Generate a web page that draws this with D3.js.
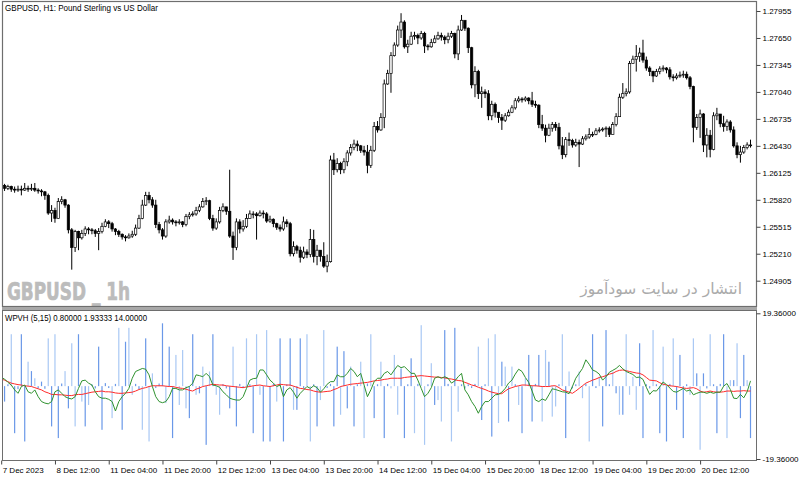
<!DOCTYPE html>
<html>
<head>
<meta charset="utf-8">
<script src="https://cdn.jsdelivr.net/npm/d3@7"></script>
<style>
body { margin: 0; background: #fff; }
svg { display: block; }
</style>
</head>
<body>
<svg width="800" height="481"></svg>
<script>
// GBPUSD H1 bars, 7 Dec 20:00 .. 21 Dec 03:00
var open = [1.2600,1.2598,1.2595,1.2597,1.2594,1.2593,1.2594,1.2593,1.2595,1.2594,
1.2595,1.2593,1.2592,1.2591,1.2587,1.2567,1.2570,1.2561,1.2580,1.2582,
1.2576,1.2548,1.2528,1.2546,1.2539,1.2544,1.2549,1.2548,1.2547,1.2544,
1.2546,1.2552,1.2557,1.2555,1.2549,1.2546,1.2543,1.2540,1.2539,1.2541,
1.2543,1.2550,1.2561,1.2576,1.2587,1.2582,1.2576,1.2554,1.2548,1.2541,
1.2557,1.2559,1.2557,1.2556,1.2557,1.2554,1.2563,1.2565,1.2566,1.2570,
1.2574,1.2580,1.2581,1.2561,1.2550,1.2557,1.2570,1.2574,1.2569,1.2541,
1.2528,1.2557,1.2549,1.2552,1.2561,1.2566,1.2566,1.2564,1.2567,1.2566,
1.2558,1.2560,1.2555,1.2551,1.2549,1.2557,1.2555,1.2521,1.2529,1.2525,
1.2517,1.2523,1.2520,1.2537,1.2518,1.2525,1.2518,1.2507,1.2512,1.2627,
1.2616,1.2623,1.2616,1.2625,1.2635,1.2641,1.2645,1.2643,1.2638,1.2636,
1.2621,1.2638,1.2665,1.2661,1.2675,1.2713,1.2725,1.2745,1.2757,1.2774,
1.2783,1.2755,1.2758,1.2767,1.2768,1.2765,1.2770,1.2756,1.2755,1.2760,
1.2764,1.2768,1.2766,1.2763,1.2767,1.2770,1.2747,1.2774,1.2785,1.2776,
1.2754,1.2712,1.2727,1.2702,1.2704,1.2702,1.2677,1.2690,1.2681,1.2675,
1.2672,1.2677,1.2681,1.2686,1.2694,1.2696,1.2695,1.2697,1.2694,1.2690,
1.2689,1.2667,1.2663,1.2655,1.2663,1.2667,1.2664,1.2643,1.2633,1.2650,
1.2649,1.2644,1.2647,1.2645,1.2651,1.2653,1.2656,1.2656,1.2660,1.2661,
1.2662,1.2663,1.2656,1.2667,1.2676,1.2698,1.2702,1.2704,1.2736,1.2741,
1.2744,1.2748,1.2740,1.2731,1.2727,1.2722,1.2727,1.2730,1.2731,1.2729,
1.2721,1.2720,1.2722,1.2723,1.2724,1.2720,1.2710,1.2664,1.2675,1.2679,
1.2644,1.2655,1.2639,1.2677,1.2679,1.2668,1.2665,1.2670,1.2661,1.2643,
1.2633,1.2636,1.2641,1.2644];

var high = [1.2601,1.2600,1.2599,1.2598,1.2597,1.2598,1.2598,1.2601,1.2598,1.2600,
1.2601,1.2595,1.2594,1.2592,1.2589,1.2576,1.2573,1.2584,1.2586,1.2583,
1.2577,1.2550,1.2548,1.2547,1.2548,1.2552,1.2551,1.2550,1.2549,1.2550,
1.2556,1.2560,1.2559,1.2557,1.2550,1.2548,1.2544,1.2542,1.2544,1.2547,
1.2554,1.2565,1.2582,1.2591,1.2591,1.2585,1.2582,1.2557,1.2550,1.2560,
1.2564,1.2561,1.2559,1.2560,1.2558,1.2566,1.2568,1.2569,1.2574,1.2577,
1.2584,1.2585,1.2582,1.2565,1.2561,1.2574,1.2578,1.2574,1.2616,1.2546,
1.2561,1.2560,1.2559,1.2566,1.2570,1.2569,1.2568,1.2570,1.2570,1.2568,
1.2564,1.2561,1.2556,1.2554,1.2563,1.2560,1.2557,1.2535,1.2531,1.2529,
1.2529,1.2526,1.2549,1.2548,1.2531,1.2525,1.2534,1.2520,1.2632,1.2635,
1.2629,1.2625,1.2629,1.2638,1.2645,1.2650,1.2649,1.2644,1.2643,1.2644,
1.2643,1.2670,1.2671,1.2680,1.2718,1.2729,1.2749,1.2760,1.2779,1.2793,
1.2785,1.2763,1.2772,1.2772,1.2770,1.2773,1.2772,1.2758,1.2764,1.2768,
1.2772,1.2771,1.2768,1.2771,1.2773,1.2771,1.2779,1.2791,1.2784,1.2777,
1.2755,1.2733,1.2729,1.2710,1.2707,1.2706,1.2694,1.2692,1.2680,1.2679,
1.2680,1.2684,1.2689,1.2697,1.2699,1.2698,1.2699,1.2698,1.2704,1.2694,
1.2690,1.2678,1.2667,1.2668,1.2670,1.2670,1.2669,1.2653,1.2653,1.2658,
1.2651,1.2651,1.2650,1.2654,1.2656,1.2663,1.2659,1.2663,1.2664,1.2664,
1.2665,1.2665,1.2670,1.2680,1.2702,1.2714,1.2708,1.2739,1.2745,1.2757,
1.2754,1.2763,1.2744,1.2733,1.2728,1.2730,1.2733,1.2734,1.2732,1.2732,
1.2724,1.2725,1.2727,1.2728,1.2727,1.2722,1.2711,1.2679,1.2684,1.2680,
1.2663,1.2661,1.2681,1.2686,1.2679,1.2677,1.2673,1.2672,1.2665,1.2647,
1.2643,1.2644,1.2647,1.2650];

var low = [1.2593,1.2592,1.2593,1.2591,1.2590,1.2591,1.2587,1.2592,1.2591,1.2592,
1.2591,1.2589,1.2586,1.2582,1.2565,1.2557,1.2556,1.2561,1.2577,1.2573,
1.2544,1.2503,1.2523,1.2525,1.2537,1.2541,1.2543,1.2543,1.2540,1.2525,
1.2544,1.2551,1.2550,1.2546,1.2542,1.2540,1.2537,1.2535,1.2538,1.2539,
1.2541,1.2549,1.2560,1.2575,1.2578,1.2573,1.2550,1.2544,1.2537,1.2539,
1.2555,1.2554,1.2552,1.2554,1.2551,1.2552,1.2560,1.2563,1.2564,1.2568,
1.2573,1.2576,1.2559,1.2547,1.2548,1.2555,1.2568,1.2565,1.2539,1.2514,
1.2525,1.2544,1.2546,1.2550,1.2561,1.2561,1.2537,1.2563,1.2561,1.2556,
1.2556,1.2551,1.2548,1.2546,1.2547,1.2551,1.2518,1.2518,1.2521,1.2511,
1.2515,1.2516,1.2517,1.2511,1.2508,1.2512,1.2505,1.2500,1.2511,1.2610,
1.2613,1.2611,1.2612,1.2620,1.2632,1.2638,1.2637,1.2635,1.2632,1.2612,
1.2618,1.2636,1.2658,1.2660,1.2663,1.2712,1.2703,1.2744,1.2755,1.2765,
1.2753,1.2748,1.2757,1.2763,1.2758,1.2763,1.2748,1.2751,1.2754,1.2759,
1.2763,1.2762,1.2758,1.2759,1.2765,1.2742,1.2740,1.2773,1.2773,1.2748,
1.2708,1.2698,1.2696,1.2686,1.2697,1.2672,1.2672,1.2675,1.2669,1.2661,
1.2670,1.2676,1.2680,1.2684,1.2692,1.2692,1.2693,1.2690,1.2687,1.2686,
1.2663,1.2660,1.2647,1.2654,1.2659,1.2660,1.2639,1.2628,1.2630,1.2643,
1.2641,1.2642,1.2619,1.2644,1.2649,1.2651,1.2653,1.2655,1.2658,1.2659,
1.2653,1.2653,1.2656,1.2665,1.2676,1.2696,1.2699,1.2702,1.2736,1.2727,
1.2738,1.2737,1.2728,1.2722,1.2715,1.2721,1.2724,1.2727,1.2725,1.2718,
1.2716,1.2718,1.2720,1.2720,1.2718,1.2707,1.2647,1.2661,1.2652,1.2636,
1.2630,1.2630,1.2638,1.2672,1.2664,1.2659,1.2660,1.2658,1.2641,1.2629,
1.2624,1.2634,1.2639,1.2641];

var close = [1.2598,1.2595,1.2597,1.2594,1.2593,1.2594,1.2593,1.2595,1.2594,1.2595,
1.2593,1.2592,1.2591,1.2587,1.2567,1.2570,1.2561,1.2580,1.2582,1.2576,
1.2548,1.2528,1.2546,1.2539,1.2544,1.2549,1.2548,1.2547,1.2544,1.2546,
1.2552,1.2557,1.2555,1.2549,1.2546,1.2543,1.2540,1.2539,1.2541,1.2543,
1.2550,1.2561,1.2576,1.2587,1.2582,1.2576,1.2554,1.2548,1.2541,1.2557,
1.2559,1.2557,1.2556,1.2557,1.2554,1.2563,1.2565,1.2566,1.2570,1.2574,
1.2580,1.2581,1.2561,1.2550,1.2557,1.2570,1.2574,1.2569,1.2541,1.2528,
1.2557,1.2549,1.2552,1.2561,1.2566,1.2566,1.2564,1.2567,1.2566,1.2558,
1.2560,1.2555,1.2551,1.2549,1.2557,1.2555,1.2521,1.2529,1.2525,1.2517,
1.2523,1.2520,1.2537,1.2518,1.2525,1.2518,1.2507,1.2512,1.2627,1.2616,
1.2623,1.2616,1.2625,1.2635,1.2641,1.2645,1.2643,1.2638,1.2636,1.2621,
1.2638,1.2665,1.2661,1.2675,1.2713,1.2725,1.2745,1.2757,1.2774,1.2783,
1.2755,1.2758,1.2767,1.2768,1.2765,1.2770,1.2756,1.2755,1.2760,1.2764,
1.2768,1.2766,1.2763,1.2767,1.2770,1.2747,1.2774,1.2785,1.2776,1.2754,
1.2712,1.2727,1.2702,1.2704,1.2702,1.2677,1.2690,1.2681,1.2675,1.2672,
1.2677,1.2681,1.2686,1.2694,1.2696,1.2695,1.2697,1.2694,1.2690,1.2689,
1.2667,1.2663,1.2655,1.2663,1.2667,1.2664,1.2643,1.2633,1.2650,1.2649,
1.2644,1.2647,1.2645,1.2651,1.2653,1.2656,1.2656,1.2660,1.2661,1.2662,
1.2663,1.2656,1.2667,1.2676,1.2698,1.2702,1.2704,1.2736,1.2741,1.2744,
1.2748,1.2740,1.2731,1.2727,1.2722,1.2727,1.2730,1.2731,1.2729,1.2721,
1.2720,1.2722,1.2723,1.2724,1.2720,1.2710,1.2664,1.2675,1.2679,1.2644,
1.2655,1.2639,1.2677,1.2679,1.2668,1.2665,1.2670,1.2661,1.2643,1.2633,
1.2636,1.2641,1.2644,1.2644];

// WPVH (5,15) histogram and its two lines
var hist = [0.6,-4.1,0.5,13.8,-12.5,-0.8,13.8,-14.7,6.5,4.0,
2.1,-0.6,1.2,-0.7,12.7,-10.7,13.8,-13.8,0.7,4.0,
-5.9,11.4,-10.7,13.8,-4.1,-10.7,-5.0,0.5,-0.6,10.5,
-11.6,0.8,-0.5,-8.5,0.6,15.5,-11.6,11.8,15.5,-2.3,
0.6,-0.8,-11.6,12.7,-14.7,3.4,-0.5,0.7,16.7,-4.5,
10.5,-13.8,8.3,-5.0,9.6,-5.9,-8.5,13.8,-2.3,-1.9,
5.2,-15.6,3.9,13.8,-2.3,-7.6,0.5,-0.6,-5.9,10.5,
-10.7,0.6,-0.5,12.7,0.5,-12.5,13.8,-2.3,-14.7,14.9,
-14.7,0.6,-4.1,12.7,-14.7,0.5,12.7,-6.3,-6.3,12.7,
-0.6,13.8,-14.7,0.5,-10.7,-3.7,14.9,-0.5,0.6,-10.7,
10.5,-7.6,9.3,-5.9,5.2,-10.7,0.5,6.5,-13.8,0.7,
13.8,-8.5,0.5,6.5,-13.8,0.6,-0.6,8.3,-7.6,4.7,
-13.8,0.5,7.4,-12.5,0.6,16.2,-15.6,0.5,6.1,-5.0,
-3.7,-9.4,14.9,0.6,-14.7,15.5,-6.8,0.5,-0.6,0.5,
-0.5,0.6,10.5,-9.0,0.5,12.7,-13.4,13.8,-9.8,6.5,
5.2,-9.4,5.2,0.5,-5.0,-12.5,2.1,8.3,-9.4,0.6,
8.3,-9.4,9.6,6.5,-8.1,-5.4,0.5,13.8,-13.8,3.9,
-0.6,0.5,3.9,-3.2,0.6,-14.7,13.8,-0.5,2.5,-10.7,
14.9,0.5,3.9,-1.9,-7.6,-7.6,13.8,-2.3,2.5,-6.3,
11.4,-13.8,0.5,-0.6,14.9,0.5,-12.5,10.5,-14.7,0.6,
12.7,-6.3,8.3,-13.8,0.5,-2.3,12.7,3.4,-16.9,3.4,
-0.6,13.8,0.5,-12.5,0.6,13.8,-13.8,1.6,1.6,11.4,
-8.5,8.3,1.6,-13.8];

// 1 = darker blue buffer, 0 = light blue buffer
var histKind = [1,1,1,0,1,1,1,1,0,1, 0,1,1,1,0,1,0,1,1,0, 1,0,0,1,0,1,0,1,1,1,
1,1,1,0,1,0,1,1,0,0, 1,1,0,1,0,0,1,1,1,0, 1,1,0,0,0,0,1,1,0,1,
0,1,0,1,0,0,1,1,1,0, 1,1,1,0,1,1,0,0,1,0, 1,1,0,1,1,1,1,0,1,1,
1,0,0,1,1,0,0,1,1,1, 1,0,1,1,0,1,1,0,0,1, 0,1,1,0,1,1,0,0,0,1,
1,1,1,0,1,0,0,1,0,1, 0,0,1,1,0,1,0,1,1,1, 1,1,0,1,1,0,1,0,0,1,
0,1,0,1,0,1,0,1,1,1, 1,0,0,1,0,0,1,0,1,0, 1,1,0,0,1,0,1,1,0,1,
1,1,0,1,0,1,0,0,0,0, 1,1,1,1,0,1,1,0,1,1, 0,1,1,1,1,0,0,1,0,1,
1,0,1,1,1,1,0,0,1,0, 1,1,0,1];

var greenLine = [2.3,1.9,1.0,0.3,-1.0,-1.9,-0.1,0.3,-1.5,-1.9,
-1.0,-2.8,-4.1,-4.5,-4.7,-4.1,-1.5,-1.0,-1.9,-2.8,
-3.2,-3.4,-2.8,-0.6,1.4,1.6,0.8,0.3,-1.5,-2.8,
-3.2,-3.2,-3.5,-4.1,-6.6,-4.1,-2.8,-1.9,-0.6,2.1,
3.9,4.3,4.7,4.5,3.0,-0.1,-2.8,-4.1,-4.4,-4.1,
-2.8,-0.6,-0.6,-1.0,-1.0,-0.4,-0.1,0.8,3.0,2.8,
2.5,3.4,2.5,0.3,0.1,-0.3,-1.5,-2.3,-3.2,-3.5,
-3.7,-3.7,-2.8,-0.6,1.6,2.0,2.1,4.3,4.3,3.0,
1.6,0.8,-0.1,0.3,-2.8,-1.0,-0.4,-1.6,-3.2,-1.9,
-1.0,-0.1,-0.6,0.1,-0.4,-1.6,-0.7,0.5,1.2,1.2,
3.0,2.5,2.5,3.4,4.7,3.9,2.5,3.4,0.3,-2.8,
-1.0,1.2,2.1,2.1,3.4,3.9,3.0,4.3,5.5,4.9,
5.2,4.3,3.4,3.4,1.6,-0.6,-2.8,-1.9,-0.4,2.1,
2.5,2.1,2.5,2.1,0.8,1.4,2.5,3.4,-1.0,-2.3,
-4.1,-5.4,-7.2,-5.4,-4.1,-4.1,-3.2,-2.3,-2.2,-1.6,
-0.6,0.8,1.6,3.2,4.5,3.9,2.3,1.0,-1.3,-3.7,
-4.1,-3.4,-3.8,-2.3,-0.7,-0.9,-1.2,-1.5,-1.6,-2.0,
-0.1,2.1,3.4,4.7,7.0,5.8,4.3,3.9,3.2,1.6,
2.5,3.7,4.2,4.7,5.5,4.6,3.9,3.5,3.1,2.3,
2.4,1.8,-0.3,-2.2,-1.2,-1.3,-0.2,1.1,0.4,-0.5,
-1.4,-1.6,-1.1,-0.6,-1.3,-1.0,-2.3,-1.9,-1.6,-1.6,
-1.9,-1.6,-1.9,-1.6,-1.6,0.0,0.7,-0.9,-3.2,-3.3,
-2.2,-3.1,-1.5,1.4];

var redLine = [1.9,1.6,1.2,0.8,0.6,0.4,0.3,0.1,0.0,-0.1,
-0.4,-0.7,-1.0,-1.5,-1.8,-2.2,-2.2,-2.3,-2.3,-2.4,
-2.5,-2.5,-2.3,-2.2,-2.2,-2.0,-1.8,-1.6,-1.5,-1.4,
-1.3,-1.5,-1.5,-1.6,-1.8,-1.9,-1.9,-1.8,-1.7,-1.6,
-1.3,-0.9,-0.6,-0.4,-0.1,0.1,0.1,0.1,0.1,0.0,
-0.1,-0.1,-0.3,-0.5,-0.6,-0.8,-1.1,-1.3,-0.8,-0.5,
-0.1,0.1,0.3,0.5,0.4,0.3,0.3,0.1,0.0,-0.1,
-0.2,-0.3,-0.4,-0.2,-0.1,0.1,0.2,0.3,0.1,0.0,
-0.1,0.1,0.3,0.5,0.4,0.3,0.3,0.0,-0.3,-0.6,
-0.7,-0.9,-1.0,-1.3,-1.5,-1.6,-1.5,-1.4,-1.3,-0.9,
-0.6,-0.1,0.1,0.3,0.5,0.6,0.7,0.8,0.9,1.0,
1.2,1.4,1.5,1.6,1.8,1.9,2.1,2.1,2.1,2.1,
2.3,2.4,2.5,2.6,2.7,2.8,2.7,2.6,2.5,2.4,
2.4,2.3,2.2,2.0,1.9,1.7,1.5,1.4,1.0,0.7,
0.3,0.1,-0.3,-0.6,-0.9,-1.3,-1.6,-1.8,-2.0,-2.0,
-1.3,-0.7,-0.4,-0.1,0.1,0.3,0.3,0.2,0.1,0.1,
0.0,-0.1,-0.1,-0.1,0.1,0.1,-0.4,-1.0,-1.3,-1.6,
-1.9,-1.3,-0.6,0.1,0.8,1.2,1.6,1.9,2.3,2.5,
2.8,3.2,3.4,3.9,4.2,4.3,4.1,3.9,3.7,3.5,
3.4,3.0,2.3,1.6,1.5,1.4,0.9,0.5,0.3,0.1,
0.0,-0.1,-0.3,-0.5,-0.6,-0.5,-0.4,-0.7,-1.3,-1.6,
-1.5,-1.3,-1.5,-1.6,-1.6,-1.5,-1.3,-1.3,-1.4,-1.3,
-1.3,-1.2,-1.3,-1.3];

var priceTicks = [1.27955,1.27650,1.27345,1.27040,1.26735,1.26430,1.26125,1.25820,1.25515,1.25210,1.24905];
var indTicks = [19.36, -19.36];
var timeIdx = [0,16,32,48,64,80,96,112,128,144,160,176,192,208];
var timeLabels = ["7 Dec 2023","8 Dec 12:00","11 Dec 04:00","11 Dec 20:00","12 Dec 12:00","13 Dec 04:00","13 Dec 20:00",
  "14 Dec 12:00","15 Dec 04:00","15 Dec 20:00","18 Dec 12:00","19 Dec 04:00","19 Dec 20:00","20 Dec 12:00"];

var plotL = 2, plotR = 756, mainT = 2, mainB = 306, subT = 310, subB = 460;
var font = "'Liberation Sans', Arial, sans-serif";

var svg = d3.select('svg');

var x = d3.scaleLinear().domain([0, close.length - 1]).range([1.2, 750.5]);
var yPrice = d3.scaleLinear().domain([1.24905, 1.27955]).range([280.7, 11]);
var yInd = d3.scaleLinear().domain([-19.36, 19.36]).range([459, 313.3]);

var defs = svg.append('defs');
defs.append('clipPath').attr('id', 'clipMain').append('rect')
    .attr('x', plotL).attr('y', mainT).attr('width', plotR - plotL).attr('height', mainB - mainT);
defs.append('clipPath').attr('id', 'clipSub').append('rect')
    .attr('x', plotL).attr('y', subT).attr('width', plotR - plotL).attr('height', subB - subT);

// watermarks
svg.append('text')
    .attr('x', 7).attr('y', 300)
    .attr('font-family', "'DejaVu Sans Condensed', 'DejaVu Sans', sans-serif")
    .attr('font-weight', 'bold').attr('font-size', 25)
    .attr('textLength', 123).attr('lengthAdjust', 'spacingAndGlyphs')
    .attr('fill', '#bcbcbc').attr('stroke', '#bcbcbc').attr('stroke-width', 0.7)
    .text('GBPUSD _ 1h');

svg.append('text')
    .attr('x', 742).attr('y', 294)
    .attr('text-anchor', 'end')
    .attr('font-family', "'DejaVu Sans', sans-serif")
    .attr('font-size', 15.5)
    .attr('fill', '#ababab')
    .text('انتشار در سایت سودآموز');

// candles
var bars = d3.range(close.length);
var gCandle = svg.append('g').attr('clip-path', 'url(#clipMain)');

gCandle.selectAll('line.wick')
    .data(bars)
    .enter()
    .append('line')
    .attr('class', 'wick')
    .attr('x1', function(i){ return x(i); })
    .attr('x2', function(i){ return x(i); })
    .attr('y1', function(i){ return yPrice(high[i]); })
    .attr('y2', function(i){ return yPrice(low[i]); })
    .attr('stroke', '#000')
    .attr('stroke-width', 1);

gCandle.selectAll('rect.body')
    .data(bars)
    .enter()
    .append('rect')
    .attr('class', 'body')
    .attr('x', function(i){ return x(i) - 1.2; })
    .attr('width', 2.4)
    .attr('y', function(i){ return yPrice(Math.max(open[i], close[i])); })
    .attr('height', function(i){
        return Math.max(0.8, Math.abs(yPrice(open[i]) - yPrice(close[i])));
    })
    .attr('fill', function(i){ return close[i] >= open[i] ? '#fff' : '#000'; })
    .attr('stroke', '#000')
    .attr('stroke-width', 0.7);

// indicator
var gSub = svg.append('g').attr('clip-path', 'url(#clipSub)');

gSub.selectAll('rect.hist')
    .data(bars)
    .enter()
    .append('rect')
    .attr('class', 'hist')
    .attr('x', function(i){ return x(i) - 0.6; })
    .attr('width', 1.2)
    .attr('y', function(i){ return Math.min(yInd(0), yInd(hist[i])); })
    .attr('height', function(i){ return Math.abs(yInd(hist[i]) - yInd(0)); })
    .attr('fill', function(i){ return histKind[i] ? '#6a98e8' : '#a9c8f4'; });

var line = d3.line()
    .x(function(d, i){ return x(i); })
    .y(function(d){ return yInd(d); });

gSub.append('path').datum(redLine)
    .attr('d', line).attr('fill', 'none')
    .attr('stroke', '#ff2a2a').attr('stroke-width', 1);

gSub.append('path').datum(greenLine)
    .attr('d', line).attr('fill', 'none')
    .attr('stroke', '#2f922f').attr('stroke-width', 1);

// frames
svg.append('rect')
    .attr('x', plotL + 0.5).attr('y', 1.5)
    .attr('width', plotR - plotL).attr('height', mainB - 1)
    .attr('fill', 'none').attr('stroke', '#6e6e6e').attr('stroke-width', 1.2);
svg.append('rect')
    .attr('x', plotL).attr('y', mainB + 1)
    .attr('width', plotR - plotL + 1).attr('height', 3)
    .attr('fill', '#a8a8a8');
svg.append('rect')
    .attr('x', plotL + 0.5).attr('y', subT + 0.5)
    .attr('width', plotR - plotL).attr('height', subB - subT)
    .attr('fill', 'none').attr('stroke', '#6e6e6e').attr('stroke-width', 1);

// axes
var axPrice = svg.append('g')
    .attr('transform', 'translate(' + (plotR + 0.5) + ',0)')
    .call(d3.axisRight(yPrice).tickValues(priceTicks).tickSize(4).tickPadding(2)
        .tickFormat(function(d){ return d.toFixed(5); }));

var axInd = svg.append('g')
    .attr('transform', 'translate(' + (plotR + 0.5) + ',0)')
    .call(d3.axisRight(yInd).tickValues(indTicks).tickSize(4).tickPadding(2)
        .tickFormat(function(d){ return d.toFixed(5); }));

var axTime = svg.append('g')
    .attr('transform', 'translate(0,' + (subB + 0.5) + ')')
    .call(d3.axisBottom(x).tickValues(timeIdx).tickSize(4).tickPadding(3)
        .tickFormat(function(d, i){ return timeLabels[i]; }));
axTime.selectAll('text').attr('text-anchor', 'start').attr('dx', 1);

[axPrice, axInd, axTime].forEach(function(g){
    g.select('.domain').remove();
    g.selectAll('line').attr('stroke', '#444');
    g.selectAll('text').attr('font-family', font).attr('font-size', 8).attr('fill', '#000');
});

// labels
svg.append('text')
    .attr('x', 5).attr('y', 10.5)
    .attr('font-family', font).attr('font-size', 8.5)
    .attr('textLength', 153).attr('lengthAdjust', 'spacingAndGlyphs')
    .text('GBPUSD, H1:  Pound Sterling vs US Dollar');

svg.append('text')
    .attr('x', 5).attr('y', 321)
    .attr('font-family', font).attr('font-size', 8.5)
    .attr('textLength', 142).attr('lengthAdjust', 'spacingAndGlyphs')
    .text('WPVH (5,15) 0.80000 1.93333 14.00000');
</script>
</body>
</html>
